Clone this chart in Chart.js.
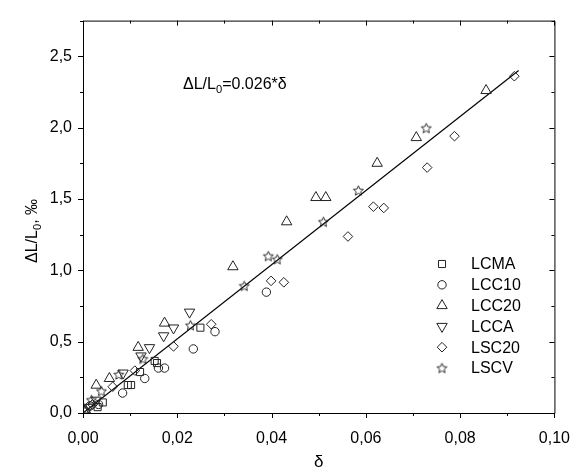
<!DOCTYPE html>
<html>
<head>
<meta charset="utf-8">
<script src="https://cdn.jsdelivr.net/npm/chart.js@4.4.1/dist/chart.umd.min.js"></script>
<style>
  html, body { margin: 0; padding: 0; background: #fff; }
  #wrap { width: 586px; height: 474px; }
</style>
</head>
<body>
<div id="wrap"><canvas id="chart"></canvas></div>
<script>
// δ (x) and ΔL/L0 in ‰ (y)
const lcmaX = [0.0031, 0.0042, 0.0095, 0.0102, 0.0121, 0.0152, 0.0157, 0.0249];
const lcmaY = [0.041, 0.074, 0.196, 0.196, 0.287, 0.365, 0.35, 0.598];

const lcc10X = [0.0015, 0.0033, 0.0084, 0.0131, 0.016, 0.0173, 0.0234, 0.028, 0.0389];
const lcc10Y = [0.05, 0.06, 0.14, 0.242, 0.315, 0.315, 0.449, 0.57, 0.847];

const lcc20X = [0.0005, 0.0028, 0.0056, 0.0117, 0.0173, 0.0318, 0.0432, 0.0494, 0.0515, 0.0624, 0.0707, 0.0855];
const lcc20Y = [0.02, 0.195, 0.242, 0.46, 0.63, 1.025, 1.34, 1.51, 1.51, 1.75, 1.93, 2.26];

const lccaX = [0.0012, 0.0028, 0.0085, 0.0123, 0.0141, 0.0171, 0.0192, 0.0226];
const lccaY = [0.04, 0.09, 0.28, 0.4, 0.458, 0.541, 0.596, 0.707];

const lsc20X = [0.002, 0.0063, 0.011, 0.0192, 0.0272, 0.0399, 0.0426, 0.0562, 0.0616, 0.0638, 0.073, 0.0788, 0.0915];
const lsc20Y = [0.06, 0.184, 0.297, 0.467, 0.622, 0.926, 0.916, 1.237, 1.446, 1.437, 1.72, 1.94, 2.36];

const lscvX = [0.0005, 0.0018, 0.0039, 0.0076, 0.0127, 0.0228, 0.0342, 0.0393, 0.0412, 0.051, 0.0584, 0.0728];
const lscvY = [0.02, 0.092, 0.154, 0.27, 0.38, 0.615, 0.891, 1.1, 1.078, 1.34, 1.56, 1.997];

// linear fit ΔL/L0 = 0.026*δ
const fitX = [0, 0.0924];
const fitY = [0, 2.4];

const xTicks = ["0,00", "0,02", "0,04", "0,06", "0,08", "0,10"];
const yTicks = ["0,0", "0,5", "1,0", "1,5", "2,0", "2,5"];

const FONT = "'Liberation Sans', Arial, sans-serif";
const INK = "#222";

// small outlined five point star for LSCV
function makeStar() {
  const c = document.createElement("canvas");
  c.width = 13;
  c.height = 13;
  const g = c.getContext("2d");
  g.strokeStyle = "#1a1a1a";
  g.lineWidth = 0.9;
  g.beginPath();
  for (let i = 0; i < 10; i++) {
    const r = i % 2 ? 2.4 : 5.2;
    const a = -Math.PI / 2 + (i * Math.PI) / 5;
    const px = 6.5 + r * Math.cos(a);
    const py = 7 + r * Math.sin(a);
    if (i === 0) g.moveTo(px, py);
    else g.lineTo(px, py);
  }
  g.closePath();
  g.stroke();
  return c;
}
const starImg = makeStar();

const pts = (xs, ys) => xs.map((x, i) => ({ x: x, y: ys[i] }));

const series = [
  { label: "LCMA", data: pts(lcmaX, lcmaY), pointStyle: "rect", radius: 5, rotation: 0 },
  { label: "LCC10", data: pts(lcc10X, lcc10Y), pointStyle: "circle", radius: 4.2, rotation: 0 },
  { label: "LCC20", data: pts(lcc20X, lcc20Y), pointStyle: "triangle", radius: 6, rotation: 0 },
  { label: "LCCA", data: pts(lccaX, lccaY), pointStyle: "triangle", radius: 6, rotation: 180 },
  { label: "LSC20", data: pts(lsc20X, lsc20Y), pointStyle: "rectRot", radius: 4.8, rotation: 0 },
  { label: "LSCV", data: pts(lscvX, lscvY), pointStyle: starImg, radius: 5, rotation: 0 },
];

const datasets = series.map((s) => ({
  label: s.label,
  data: s.data,
  showLine: false,
  pointStyle: s.pointStyle,
  pointRadius: s.radius,
  pointRotation: s.rotation,
  pointBorderColor: INK,
  pointBackgroundColor: "rgba(0,0,0,0)",
  pointBorderWidth: 1,
}));

datasets.push({
  label: "fit",
  data: pts(fitX, fitY),
  showLine: true,
  borderColor: "#000",
  borderWidth: 1.2,
  pointRadius: 0,
});

// text with a subscript "0" after "L"
function drawSubText(ctx, parts, x, y, size) {
  let cx = x;
  parts.forEach((p) => {
    ctx.font = (p.sub ? size * 0.7 : size) + "px " + FONT;
    ctx.fillText(p.t, cx, y + (p.sub ? size * 0.25 : 0));
    cx += ctx.measureText(p.t).width;
  });
}
function subWidth(ctx, parts, size) {
  let w = 0;
  parts.forEach((p) => {
    ctx.font = (p.sub ? size * 0.7 : size) + "px " + FONT;
    w += ctx.measureText(p.t).width;
  });
  return w;
}

const framePlugin = {
  id: "frame",
  afterDraw(chart) {
    const ctx = chart.ctx;
    const a = chart.chartArea;
    const xs = chart.scales.x;
    const ys = chart.scales.y;
    ctx.save();
    ctx.strokeStyle = "#000";
    ctx.lineWidth = 1;
    ctx.beginPath();
    ctx.rect(a.left + 0.5, a.top + 0.5, a.right - a.left, a.bottom - a.top);
    ctx.stroke();

    // tick marks: outward on bottom/left, inward on top/right
    ctx.beginPath();
    for (let i = 0; i <= 10; i++) {
      const px = Math.round(xs.getPixelForValue(i * 0.01)) + 0.5;
      const len = i % 2 ? 3 : 5;
      ctx.moveTo(px, a.bottom);
      ctx.lineTo(px, a.bottom + len);
      ctx.moveTo(px, a.top);
      ctx.lineTo(px, a.top + len);
    }
    for (let i = 0; i <= 11; i++) {
      const py = Math.round(ys.getPixelForValue(i * 0.25)) + 0.5;
      const len = i % 2 ? 3 : 5;
      ctx.moveTo(a.left, py);
      ctx.lineTo(a.left - len, py);
      ctx.moveTo(a.right, py);
      ctx.lineTo(a.right - len, py);
    }
    ctx.stroke();

    // legend
    ctx.textBaseline = "middle";
    ctx.textAlign = "left";
    series.forEach((s, i) => {
      const y = 264 + i * 20.8;
      ctx.strokeStyle = INK;
      ctx.fillStyle = "rgba(0,0,0,0)";
      Chart.helpers.drawPoint(
        ctx,
        { pointStyle: s.pointStyle, radius: s.radius, rotation: s.rotation, borderWidth: 1 },
        442,
        y
      );
      ctx.fillStyle = "#000";
      ctx.font = "16px " + FONT;
      ctx.fillText(s.label, 471, y + 1);
    });

    // fit equation
    ctx.textBaseline = "alphabetic";
    drawSubText(
      ctx,
      [{ t: "\u0394L/L" }, { t: "0", sub: true }, { t: "=0.026*\u03b4" }],
      183,
      89,
      16
    );

    // x axis title
    ctx.textAlign = "center";
    ctx.font = "17px " + FONT;
    ctx.fillText("\u03b4", (a.left + a.right) / 2, 467);

    // y axis title, rotated
    const yParts = [{ t: "\u0394L/L" }, { t: "0", sub: true }, { t: ", \u2030" }];
    ctx.translate(37, 231);
    ctx.rotate(-Math.PI / 2);
    ctx.textAlign = "left";
    const w = subWidth(ctx, yParts, 16);
    drawSubText(ctx, yParts, -w / 2, 0, 16);
    ctx.restore();
  },
};

new Chart(document.getElementById("chart"), {
  type: "scatter",
  data: { datasets: datasets },
  options: {
    responsive: true,
    maintainAspectRatio: false,
    animation: false,
    layout: { padding: { left: 0, top: 15, right: 25, bottom: 0 } },
    plugins: {
      legend: { display: false },
      tooltip: { enabled: false },
    },
    scales: {
      x: {
        type: "linear",
        min: 0,
        max: 0.1,
        afterFit: (s) => {
          s.height = 61;
        },
        border: { display: false },
        grid: { display: false, drawTicks: false },
        ticks: {
          stepSize: 0.02,
          autoSkip: false,
          maxRotation: 0,
          padding: 16,
          color: "#000",
          font: { family: FONT, size: 16 },
          callback: (v) => xTicks[Math.round(v * 50)],
        },
      },
      y: {
        type: "linear",
        min: 0,
        max: 2.75,
        afterFit: (s) => {
          s.width = 83;
        },
        border: { display: false },
        grid: { display: false, drawTicks: false },
        ticks: {
          stepSize: 0.25,
          autoSkip: false,
          padding: 11,
          color: "#000",
          font: { family: FONT, size: 16 },
          callback: (v) => {
            const k = Math.round(v * 4);
            return k % 2 === 0 ? yTicks[k / 2] : "";
          },
        },
      },
    },
  },
  plugins: [framePlugin],
});
</script>
</body>
</html>
